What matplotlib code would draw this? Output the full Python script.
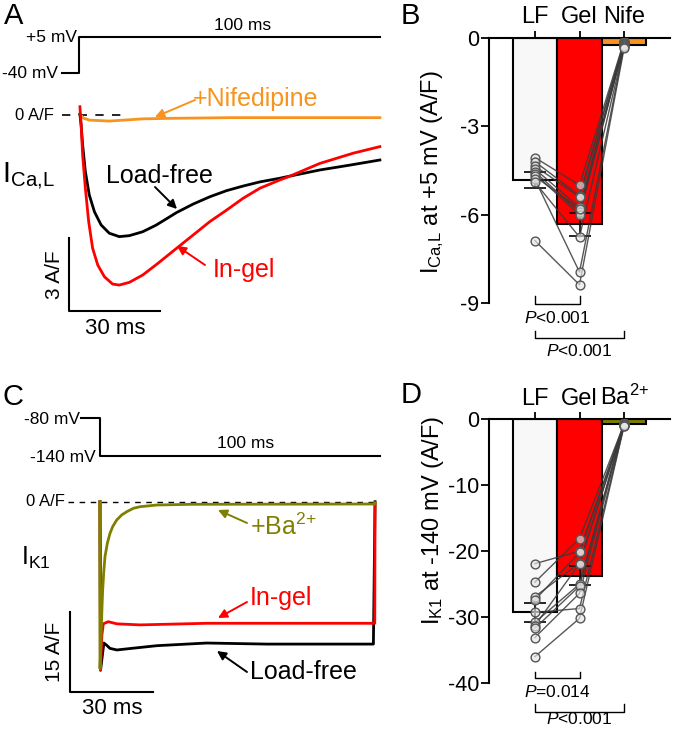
import matplotlib
matplotlib.use("Agg")
import matplotlib.pyplot as plt
import numpy as np

plt.rcParams["font.family"] = "Liberation Sans"
plt.rcParams["mathtext.fontset"] = "custom"
plt.rcParams["mathtext.rm"] = "Liberation Sans"
plt.rcParams["mathtext.it"] = "Liberation Sans:italic"
plt.rcParams["mathtext.default"] = "regular"
plt.rcParams["axes.unicode_minus"] = False

W, H = 673, 733

RED = "#ff0000"
ORANGE = "#f7931e"
OLIVE = "#808000"

# ---- panel A: I_Ca,L traces (time in ms, current in A/F) ----
ca_lf_t = [0.3, 0.7, 1.2, 2.1, 3.4, 5.1, 7.3, 10.0, 13.3, 16.6, 21.0, 25.4, 28.7, 32.2, 37.7,
           43.2, 48.7, 54.2, 59.7, 66.3, 68.5, 79.5, 89.4, 99.3]
ca_lf_i = [0.01, -0.43, -1.25, -2.35, -3.31, -4.00, -4.54, -4.88, -5.02, -4.98, -4.82, -4.55, -4.30,
           -4.03, -3.68, -3.38, -3.13, -2.94, -2.77, -2.62, -2.56, -2.28, -2.08, -1.87]
ca_gel_t = [0.3, 0.7, 1.2, 2.1, 3.2, 4.5, 6.2, 8.4, 11.1, 13.3, 16.6, 21.0, 25.4, 28.7, 32.2,
            37.7, 43.2, 48.7, 54.2, 59.7, 66.3, 69.1, 79.5, 90.5, 99.3]
ca_gel_i = [0.32, -0.43, -1.66, -3.03, -4.41, -5.50, -6.19, -6.67, -6.97, -7.01, -6.90, -6.60, -6.18,
            -5.85, -5.50, -4.95, -4.40, -3.93, -3.44, -3.03, -2.69, -2.56, -2.01, -1.59, -1.32]
ca_nife_t = [0.3, 1.5, 3.4, 10.0, 21.0, 28.7, 49.8, 99.3]
ca_nife_i = [0.01, -0.15, -0.23, -0.27, -0.18, -0.16, -0.13, -0.13]
ca_prot_t = [-5.6, 0, 0, 99.3]
ca_prot_v = [-40, -40, 5, 5]

# ---- panel C: I_K1 traces ----
k1_lf_t = [0.0, 0.2, 1.4, 2.4, 3.6, 6.1, 9.7, 20.6, 38.7, 60.5, 99.2, 99.8]
k1_lf_i = [0.0, -31.6, -26.5, -26.9, -27.5, -27.8, -27.6, -27.0, -26.5, -26.7, -26.7, 0.0]
k1_gel_t = [0.0, 0.15, 0.7, 1.2, 3.0, 6.1, 14.5, 38.7, 99.7, 99.8]
k1_gel_i = [0.0, -31.6, -25.0, -22.9, -22.5, -22.9, -23.1, -22.8, -22.8, -0.3]
k1_ba_t = [-0.1, 0.0, 0.36, 0.73, 0.97, 1.33, 1.81, 2.66, 3.63, 4.6, 6.06, 7.87, 9.69, 12.1,
           14.5, 20.6, 32.7, 99.7, 99.8]
k1_ba_i = [0.0, -31.3, -26.0, -19.7, -16.6, -13.4, -10.3, -7.8, -5.93, -4.68, -3.43, -2.49, -1.88,
           -1.24, -0.94, -0.62, -0.49, -0.43, -0.2]
k1_prot_t = [-6.9, 0, 0, 101.5]
k1_prot_v = [-80, -80, -140, -140]

# ---- panel B: peak I_Ca,L per cell ----
ca_groups = ["LF", "Gel", "Nife"]
ca_means = [-4.81, -6.33, -0.23]
ca_sem = [0.27, 0.39, 0.03]
ca_cells_lf = [-4.06, -4.20, -4.35, -4.45, -4.55, -4.62, -4.70, -4.80, -4.90, -6.88]
ca_cells_gel = [-5.00, -5.35, -5.40, -5.75, -5.90, -6.00, -5.80, -7.95, -6.76, -8.38]
ca_cells_nife = [-0.10, -0.12, -0.15, -0.18, -0.20, -0.22, -0.25, -0.28, -0.30, -0.35]

# ---- panel D: I_K1 at -140 mV per cell ----
k1_groups = ["LF", "Gel", "Ba$^{2{+}}$"]
k1_means = [-29.3, -23.7, -0.7]
k1_sem = [1.5, 1.4, 0.1]
k1_cells_lf = [-21.9, -24.7, -26.9, -27.4, -29.3, -30.8, -31.3, -31.7, -33.1, -36.0]
k1_cells_gel = [-20.0, -18.1, -21.8, -20.2, -28.7, -25.0, -21.9, -25.3, -26.4, -30.2]
k1_cells_ba = [-0.6, -0.7, -0.8, -0.9, -1.0, -0.6, -0.7, -0.8, -0.9, -1.0]


def px_axes(fig, left, top, right, bottom):
    return fig.add_axes([left / W, 1 - bottom / H, (right - left) / W, (bottom - top) / H])


def cal_axes(fig, left, top, right, bottom, x0, sx, y0, sy):
    # x0/y0 = pixel of data zero, sx/sy = pixels per data unit
    ax = px_axes(fig, left, top, right, bottom)
    ax.set_xlim((left - x0) / sx, (right - x0) / sx)
    ax.set_ylim((y0 - bottom) / sy, (y0 - top) / sy)
    ax.axis("off")
    return ax


def ftext(fig, x, y, s, **kw):
    kw.setdefault("va", "center")
    fig.text(x / W, 1 - y / H, s, **kw)


def arrow(fig, x0, y0, x1, y1, color):
    fig.add_artist(matplotlib.patches.FancyArrowPatch(
        (x0 / W, 1 - y0 / H), (x1 / W, 1 - y1 / H), transform=fig.transFigure,
        arrowstyle="-|>", mutation_scale=13, color=color, lw=1.4, shrinkA=0, shrinkB=0))


def bar_panel(ax, groups, means, sem, cells, colors, ylim, yticks):
    x = np.arange(len(groups))
    ax.bar(x, means, width=1.0, color=colors, edgecolor="black", linewidth=1.5, zorder=1)
    ax.errorbar(x[:2], means[:2], yerr=sem[:2], fmt="none", ecolor="black",
                elinewidth=1.2, capsize=8, capthick=1.2, zorder=2)
    for row in zip(*cells):
        ax.plot(x, row, color="#3a3a3a", lw=1.0, alpha=0.85, zorder=3)
    for xi, vals in zip(x, cells):
        ax.scatter([xi] * len(vals), vals, s=40, facecolor=(0.9, 0.9, 0.9, 0.65),
                   edgecolor="#555555", linewidth=1.0, zorder=4)
    ax.set_xlim(-1.03, 3.03)
    ax.set_ylim(*ylim)
    ax.set_yticks(yticks)
    ax.set_xticks(x)
    ax.set_xticklabels(groups, fontsize=17)
    ax.xaxis.tick_top()
    ax.tick_params(axis="x", direction="out", length=5, width=1.3, pad=2)
    ax.tick_params(axis="y", direction="out", length=5.5, width=1.3, labelsize=15.5, pad=1.5)
    ax.spines["right"].set_visible(False)
    ax.spines["bottom"].set_visible(False)
    ax.spines["left"].set_linewidth(1.5)
    ax.spines["top"].set_linewidth(1.5)
    ax.patch.set_visible(False)


def bracket(ax, x0, x1, ybot, ytop, label, ytext, xtext):
    ax.plot([x0, x0, x1, x1], [ytop, ybot, ybot, ytop], color="black", lw=1.0, clip_on=False)
    ax.text(xtext, ytext, label, ha="center", va="center", fontsize=12.5, clip_on=False)


fig = plt.figure(figsize=(W / 100, H / 100), dpi=100)

# ================= panel A =================
axAp = cal_axes(fig, 0, 0, 440, 90, 79, 3.03, 41, 0.8)
axAp.plot(ca_prot_t, ca_prot_v, color="black", lw=1.5)
axA = cal_axes(fig, 0, 90, 440, 340, 79, 3.03, 114.5, 24.33)
axA.plot([-5.6, 15.2], [0, 0], color="black", lw=1.2, dashes=(5, 5))
axA.plot(ca_nife_t, ca_nife_i, color=ORANGE, lw=2.0)
axA.plot(ca_lf_t, ca_lf_i, color="black", lw=2.0)
axA.plot(ca_gel_t, ca_gel_i, color=RED, lw=2.0)
axA.plot([-3.3, -3.3, 26.7], [-5.07, -8.07, -8.07], color="black", lw=1.5)

ftext(fig, 4, 16, "A", fontsize=21)
ftext(fig, 243, 26, "100 ms", ha="center", fontsize=12.5)
ftext(fig, 77, 37, "+5 mV", ha="right", fontsize=12.5)
ftext(fig, 58, 73, "-40 mV", ha="right", fontsize=12.5)
ftext(fig, 54, 115, "0 A/F", ha="right", fontsize=12)
ftext(fig, 2, 176, r"I$_{\rm Ca{,}L}$", ha="left", fontsize=21)
ftext(fig, 193, 99, "+Nifedipine", ha="left", fontsize=18, color=ORANGE)
ftext(fig, 159, 176, "Load-free", ha="center", fontsize=18)
ftext(fig, 213, 270, "In-gel", ha="left", fontsize=18, color=RED)
ftext(fig, 55, 275, "3 A/F", ha="center", rotation=90, fontsize=15)
ftext(fig, 115, 328, "30 ms", ha="center", fontsize=16)
arrow(fig, 195, 100, 155, 117, ORANGE)
arrow(fig, 155, 187, 177, 209, "black")
arrow(fig, 205, 265, 177, 246, RED)

# ================= panel C =================
axCp = cal_axes(fig, 0, 360, 440, 480, 100, 2.756, 367.3, 0.6333)
axCp.plot(k1_prot_t, k1_prot_v, color="black", lw=1.5)
axC = cal_axes(fig, 0, 480, 440, 733, 100, 2.756, 501.7, 5.333)
axC.plot([-11.6, 99.8], [0, 0], color="black", lw=1.0, dashes=(4, 4))
axC.plot(k1_lf_t, k1_lf_i, color="black", lw=2.0)
axC.plot(k1_gel_t, k1_gel_i, color=RED, lw=2.0)
axC.plot(k1_ba_t, k1_ba_i, color=OLIVE, lw=2.0)
axC.plot([-10.9, -10.9, 19.1], [-20.6, -35.6, -35.6], color="black", lw=1.5)

ftext(fig, 3, 397, "C", fontsize=21)
ftext(fig, 246, 443, "100 ms", ha="center", fontsize=12.5)
ftext(fig, 80, 419, "-80 mV", ha="right", fontsize=12.5)
ftext(fig, 96, 457, "-140 mV", ha="right", fontsize=12.5)
ftext(fig, 65, 502, "0 A/F", ha="right", fontsize=12)
ftext(fig, 21, 558, r"I$_{\rm K1}$", ha="left", fontsize=18)
ftext(fig, 250, 527, "+Ba$^{2{+}}$", ha="left", fontsize=18, color=OLIVE)
ftext(fig, 250, 598, "In-gel", ha="left", fontsize=18, color=RED)
ftext(fig, 250, 672, "Load-free", ha="left", fontsize=18)
ftext(fig, 55, 652, "15 A/F", ha="center", rotation=90, fontsize=15)
ftext(fig, 112, 708, "30 ms", ha="center", fontsize=16)
arrow(fig, 247, 523, 218, 510, OLIVE)
arrow(fig, 247, 602, 218, 618, RED)
arrow(fig, 247, 672, 217, 651, "black")

# ================= panel B =================
axB = px_axes(fig, 489, 38, 670, 303)
bar_panel(axB, ca_groups, ca_means, ca_sem, [ca_cells_lf, ca_cells_gel, ca_cells_nife],
          ["#f8f8f8", RED, ORANGE], (-9, 0), [0, -3, -6, -9])
bracket(axB, 0, 1, -9.03, -8.76, r"$\mathit{P}$<0.001", -9.52, 0.5)
bracket(axB, 0, 2, -10.19, -9.95, r"$\mathit{P}$<0.001", -10.62, 1.0)
ftext(fig, 410, 16, "B", ha="center", fontsize=21)
ftext(fig, 433, 172, r"I$_{\rm Ca{,}L}$ at +5 mV (A/F)", ha="center", rotation=90, fontsize=17)

# ================= panel D =================
axD = px_axes(fig, 489, 419.3, 670, 683)
bar_panel(axD, k1_groups, k1_means, k1_sem, [k1_cells_lf, k1_cells_gel, k1_cells_ba],
          ["#f8f8f8", RED, OLIVE], (-40, 0), [0, -10, -20, -30, -40])
bracket(axD, 0, 1, -39.3, -38.3, r"$\mathit{P}$=0.014", -41.3, 0.5)
bracket(axD, 0, 2, -44.4, -43.2, r"$\mathit{P}$<0.001", -45.4, 1.0)
ftext(fig, 411, 395, "D", ha="center", fontsize=21)
ftext(fig, 433, 520, r"I$_{\rm K1}$ at -140 mV (A/F)", ha="center", rotation=90, fontsize=17)

fig.savefig("out.png", dpi=100)
